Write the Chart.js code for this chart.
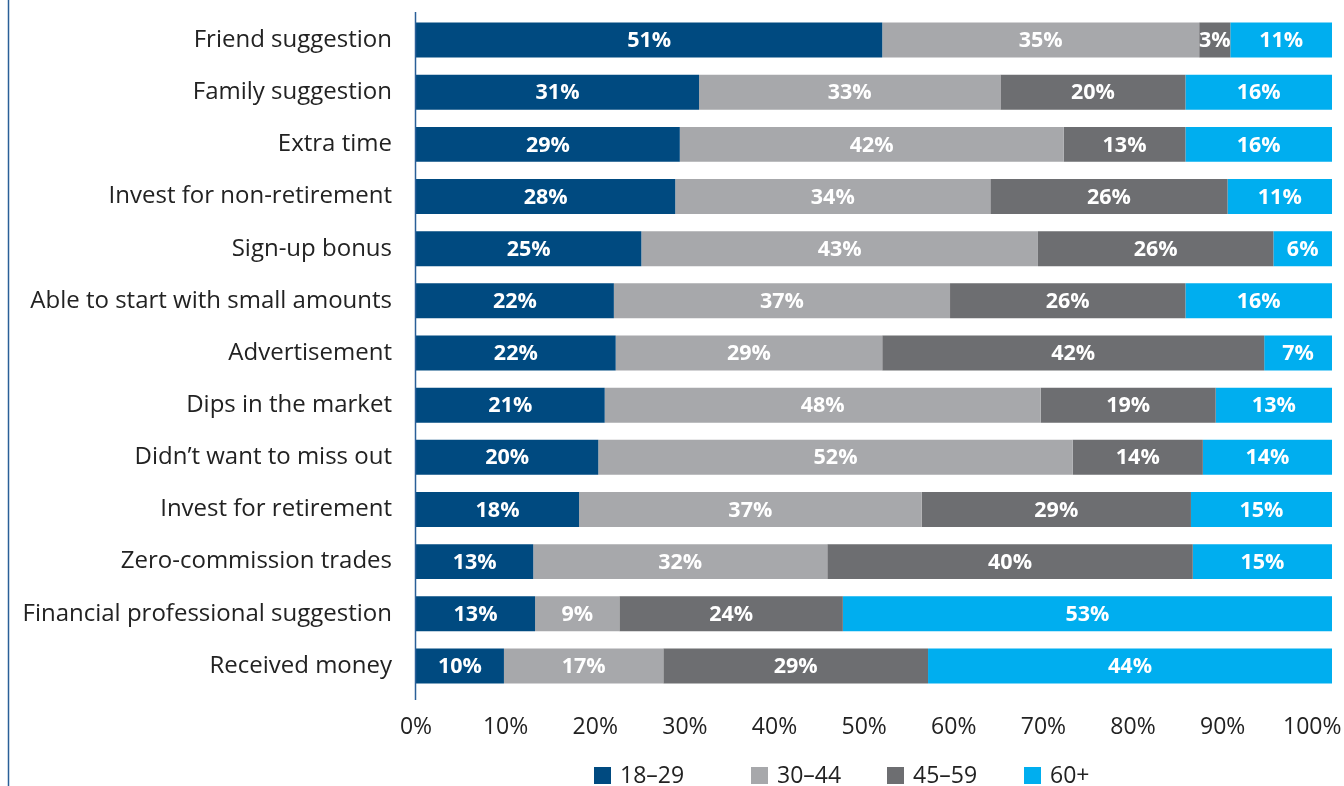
<!DOCTYPE html>
<html>
<head>
<meta charset="utf-8">
<script src="https://cdn.jsdelivr.net/npm/chart.js@4/dist/chart.umd.min.js"></script>
<style>
html,body{margin:0;padding:0;background:#fff;}
#wrap{width:1344px;height:786px;position:relative;}
</style>
</head>
<body>
<div id="wrap"><canvas id="c" width="1344" height="786"></canvas></div>
<script>
const categories = [
  "Friend suggestion",
  "Family suggestion",
  "Extra time",
  "Invest for non-retirement",
  "Sign-up bonus",
  "Able to start with small amounts",
  "Advertisement",
  "Dips in the market",
  "Didn\u2019t want to miss out",
  "Invest for retirement",
  "Zero-commission trades",
  "Financial professional suggestion",
  "Received money"
];
const seriesNames = ["18\u201329", "30\u201344", "45\u201359", "60+"];
const age18to29 = [50.9, 30.9, 28.8, 28.3, 24.6, 21.6, 21.8, 20.6, 19.9, 17.8, 12.8, 13.0, 9.6];
const age30to44 = [34.6, 32.9, 41.9, 34.4, 43.3, 36.7, 29.1, 47.6, 51.8, 37.4, 32.1, 9.2, 17.4];
const age45to59 = [3.4, 20.2, 13.3, 25.9, 25.7, 25.7, 41.7, 19.1, 14.2, 29.4, 39.9, 24.4, 28.9];
const age60plus = [11.1, 16.0, 16.0, 11.4, 6.4, 16.0, 7.4, 12.7, 14.1, 15.4, 15.2, 53.4, 44.1];
const xTicks = [0, 10, 20, 30, 40, 50, 60, 70, 80, 90, 100];
// the printed tick axis in the source is slightly compressed relative to the bars
const tickAxisMax = 102.2;

const colors = ["#004a80", "#a7a8ab", "#6d6e71", "#00aeef"];
const FONT = "'Open Sans', 'Noto Sans', sans-serif";

const barLabels = {
  id: 'barLabels',
  afterDatasetsDraw(chart) {
    const ctx = chart.ctx;
    ctx.save();
    ctx.font = "bold 21.5px " + FONT;
    ctx.fillStyle = "#ffffff";
    ctx.textAlign = "center";
    ctx.textBaseline = "middle";
    chart.data.datasets.forEach((ds, di) => {
      const meta = chart.getDatasetMeta(di);
      meta.data.forEach((bar, i) => {
        const v = ds.data[i];
        const cx = (bar.x + bar.base) / 2;
        ctx.fillText(Math.round(v) + "%", cx, bar.y + 1);
      });
    });
    ctx.restore();
  }
};

const decor = {
  id: 'decor',
  afterDraw(chart) {
    const ctx = chart.ctx;
    const xs = chart.scales.x;
    const area = chart.chartArea;
    ctx.save();
    ctx.strokeStyle = "#2a5f98";
    ctx.lineWidth = 1.5;
    const x0 = Math.round(xs.getPixelForValue(0)) - 0.5;
    ctx.beginPath();
    ctx.moveTo(x0, area.top - 2);
    ctx.lineTo(x0, area.bottom + 8);
    ctx.stroke();
    ctx.beginPath();
    ctx.moveTo(8.5, 0);
    ctx.lineTo(8.5, chart.height);
    ctx.stroke();
    const offs = [178, 335, 471, 608];
    const ly = 775;
    ctx.font = "23px " + FONT;
    ctx.textBaseline = "middle";
    ctx.textAlign = "left";
    chart.data.datasets.forEach((ds, i) => {
      const lx = area.left + offs[i];
      ctx.fillStyle = ds.backgroundColor;
      ctx.fillRect(lx, ly - 8, 17, 17);
      ctx.fillStyle = "#222222";
      ctx.fillText(ds.label, lx + 26, ly + 1);
    });
    ctx.restore();
  }
};

new Chart(document.getElementById('c'), {
  type: 'bar',
  data: {
    labels: categories,
    datasets: [
      { label: seriesNames[0], data: age18to29, backgroundColor: colors[0] },
      { label: seriesNames[1], data: age30to44, backgroundColor: colors[1] },
      { label: seriesNames[2], data: age45to59, backgroundColor: colors[2] },
      { label: seriesNames[3], data: age60plus, backgroundColor: colors[3] }
    ]
  },
  options: {
    indexAxis: 'y',
    responsive: false,
    animation: false,
    layout: { padding: { top: 14, right: 12, left: 0, bottom: 0 } },
    datasets: { bar: { categoryPercentage: 1, barPercentage: 0.67, borderWidth: 0 } },
    plugins: { legend: { display: false }, tooltip: { enabled: false } },
    scales: {
      x: {
        stacked: true,
        min: 0, max: 100,
        display: false
      },
      xt: {
        type: 'linear',
        axis: 'x',
        position: 'bottom',
        min: 0, max: tickAxisMax,
        afterBuildTicks(scale) { scale.ticks = xTicks.map(v => ({ value: v })); },
        afterFit(scale) { scale.height = 94; scale.paddingLeft = 0; scale.paddingRight = 0; },
        grid: { display: false, drawTicks: false },
        border: { display: false },
        ticks: {
          padding: 22,
          color: "#222222",
          font: { family: FONT, size: 23 },
          maxRotation: 0,
          callback: v => v + "%"
        }
      },
      y: {
        stacked: true,
        afterFit(scale) { scale.width = 416; scale.paddingTop = 0; scale.paddingBottom = 0; },
        grid: { display: false, drawTicks: false },
        border: { display: false },
        ticks: {
          padding: 24,
          color: "#222222",
          font: { family: FONT, size: 24 },
          autoSkip: false
        }
      }
    }
  },
  plugins: [barLabels, decor]
});
</script>
</body>
</html>
